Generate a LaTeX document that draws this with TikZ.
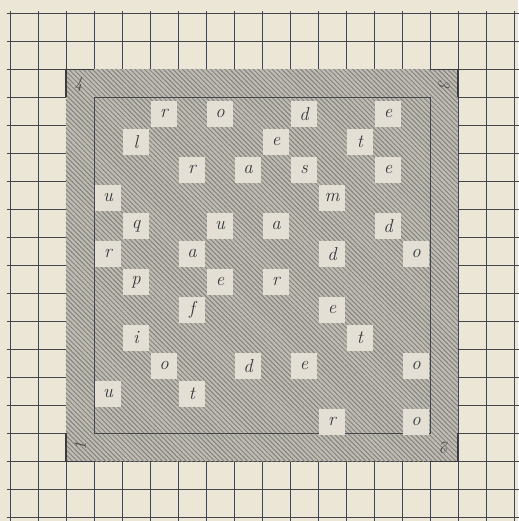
\documentclass[tikz,border=0pt]{standalone}
\usepackage{tikz}
\usetikzlibrary{patterns.meta}
\definecolor{paper}{HTML}{ECE6D7}
\definecolor{inkgray}{HTML}{45464A}
\definecolor{shade}{HTML}{BEBBB3}
\definecolor{hatch}{HTML}{85837D}
\definecolor{holefill}{HTML}{E3DFD4}
\tikzset{
  paperline/.style={draw=inkgray,line width=.9pt},
  grille/.style={fill=shade,postaction={pattern={Lines[angle=135,distance=3.4pt,line width=1pt]},pattern color=hatch}},
  frameline/.style={draw=inkgray,line width=.8pt},
  cornerline/.style={draw=inkgray!85!black,line width=1.8pt},
  hole/.style={fill=holefill,minimum size=.92cm,inner sep=0pt,font=\fontsize{19}{19}\selectfont\itshape,text=inkgray!80!black},
  cornernum/.style={inner sep=0pt,font=\fontsize{17}{17}\selectfont\itshape,text=inkgray},
}

\begin{document}
\begin{tikzpicture}
			\useasboundingbox (-0.357,-0.125) rectangle (18.143,18.482);
			\fill[paper] (-0.357,-0.125) rectangle (18.143,18.482);
			% squared paper
			\draw[paperline] (-0.1,-0.2) grid (18.3,18.1);
			% the grille and its frame
			\path[grille] (2,2) rectangle (16,16);
			\draw[frameline] (3,3) rectangle (15,15);
			\draw[cornerline] (2,15)--(2,16)--(3,16);
			\draw[cornerline] (15,16)--(16,16)--(16,15);
			\draw[cornerline] (16,3)--(16,2)--(15,2);
			\draw[cornerline] (3,2)--(2,2)--(2,3);
			\node[cornernum] (n4) at (2.45,15.45) {4};
			\node[cornernum,rotate=-90] (n3) at (15.5,15.5) {3};
			\node[cornernum,rotate=180] (n2) at (15.55,2.5) {2};
			\node[cornernum,rotate=90] (n1) at (2.5,2.55) {1};
			% the holes: column/row/letter
			\foreach \c/\r/\t [count=\i] in {3/1/r,5/1/o,8/1/d,11/1/e,
				2/2/l,7/2/e,10/2/t,
				4/3/r,6/3/a,8/3/s,11/3/e,
				1/4/u,9/4/m,
				2/5/q,5/5/u,7/5/a,11/5/d,
				1/6/r,4/6/a,9/6/d,12/6/o,
				2/7/p,5/7/e,7/7/r,
				4/8/f,9/8/e,
				2/9/i,10/9/t,
				3/10/o,6/10/d,8/10/e,12/10/o,
				1/11/u,4/11/t,
				9/12/r,12/12/o}
				\node[hole] (h\i) at (2.5+\c,15.42-\r) {\t};
		\end{tikzpicture}
\end{document}
